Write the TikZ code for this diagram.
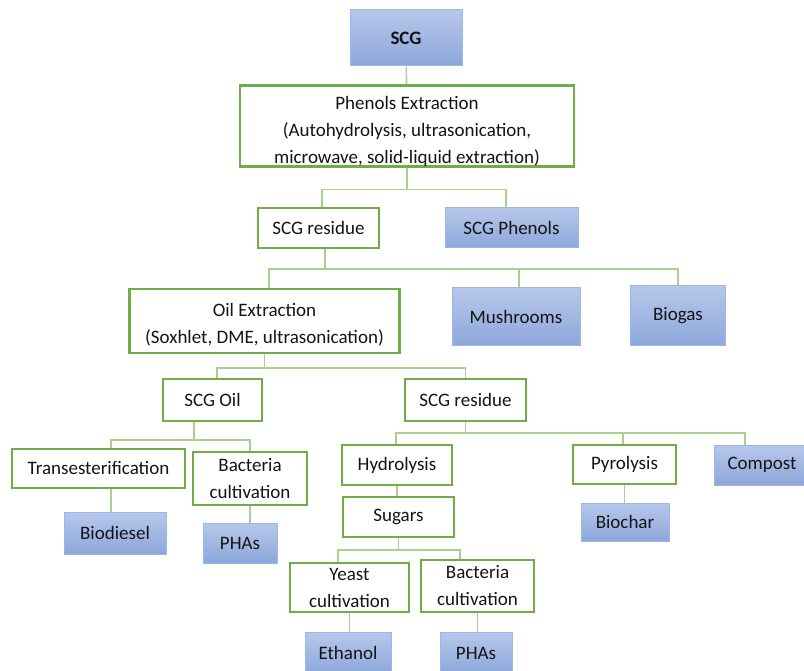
\documentclass[tikz,border=0pt]{standalone}
\usepackage{fontspec}
\setmainfont{Carlito}
\usepackage{tikz}
\definecolor{boxgreen}{RGB}{112,173,71}
\definecolor{linkgreen}{RGB}{169,209,142}
\definecolor{bluetop}{RGB}{182,199,234}
\definecolor{bluebot}{RGB}{141,167,219}
\definecolor{blueedge}{RGB}{158,182,228}
\definecolor{txt}{RGB}{20,20,20}

\begin{document}
\begin{tikzpicture}[x=1pt,y=-1pt,
	box/.style={rectangle,inner sep=0pt,align=center,text=txt,font=\fontsize{19}{27}\selectfont},
	greenbox/.style={box,draw=boxgreen,line width=2.3pt,fill=white},
	bluebox/.style={box,draw=blueedge,line width=1pt,top color=bluetop,bottom color=bluebot},
	link/.style={draw=linkgreen,line width=1.6pt}]
	\useasboundingbox (0,0) rectangle (804,671);

	\node[bluebox,minimum width=112pt,minimum height=56pt] (scg) at (406,38) {\textbf{SCG}};
	\node[greenbox,minimum width=334pt,minimum height=80pt] (phenext) at (407,126) {\rule{0pt}{24pt}Phenols Extraction\\(Autohydrolysis, ultrasonication,\\microwave, solid-liquid extraction)};
	\node[greenbox,minimum width=121pt,minimum height=40pt] (resA) at (318.5,228) {SCG residue};
	\node[bluebox,minimum width=133pt,minimum height=40pt] (phenols) at (511.5,228) {SCG Phenols};
	\node[greenbox,minimum width=270pt,minimum height=64pt] (oilext) at (264.5,321) {\rule{0pt}{21pt}Oil Extraction\\(Soxhlet, DME, ultrasonication)};
	\node[bluebox,minimum width=128pt,minimum height=58pt] (mush) at (516,317) {Mushrooms};
	\node[bluebox,minimum width=95pt,minimum height=60pt] (biogas) at (678,316) {Biogas};
	\node[greenbox,minimum width=99pt,minimum height=42pt] (oil) at (212.5,400) {SCG Oil};
	\node[greenbox,minimum width=121pt,minimum height=42pt] (resB) at (465.5,400) {SCG residue};
	\node[greenbox,minimum width=173pt,minimum height=39pt] (trans) at (98.5,468.5) {Transesterification};
	\node[greenbox,minimum width=114pt,minimum height=53pt] (bactA) at (250,478.5) {Bacteria\\cultivation};
	\node[bluebox,minimum width=102pt,minimum height=42pt] (biodiesel) at (115,533) {Biodiesel};
	\node[bluebox,minimum width=74pt,minimum height=40pt] (phaA) at (240,543) {PHAs};
	\node[greenbox,minimum width=110pt,minimum height=40pt] (hydro) at (397,465) {Hydrolysis};
	\node[greenbox,minimum width=111pt,minimum height=40pt] (sugars) at (398.5,517) {Sugars};
	\node[greenbox,minimum width=103pt,minimum height=39pt] (pyro) at (624.5,464.5) {Pyrolysis};
	\node[bluebox,minimum width=96pt,minimum height=40pt] (compost) at (762,465) {Compost};
	\node[bluebox,minimum width=88pt,minimum height=38pt] (biochar) at (625,522) {Biochar};
	\node[greenbox,minimum width=119pt,minimum height=49pt] (yeast) at (349.5,587.5) {Yeast\\cultivation};
	\node[greenbox,minimum width=113pt,minimum height=52pt] (bactB) at (477.5,586) {Bacteria\\cultivation};
	\node[bluebox,minimum width=86pt,minimum height=42pt] (ethanol) at (348,653) {Ethanol};
	\node[bluebox,minimum width=72pt,minimum height=42pt] (phaB) at (476,653) {PHAs};

	\draw[link] (scg) -- (phenext);
	\foreach \c/\dx in {resA/3.5,phenols/-5.5}
		\draw[link] (phenext.south) -- ++(0,22) -| ([xshift=\dx pt]\c.north);
	\foreach \c/\dx in {oilext/4.5,mush/3,biogas/0}
		\draw[link] ([xshift=6.5pt]resA.south) -- ++(0,20) -| ([xshift=\dx pt]\c.north);
	\foreach \c/\dx in {oil/4.5,resB/0}
		\draw[link] (oilext.south) -- ++(0,14) -| ([xshift=\dx pt]\c.north);
	\foreach \c/\dx in {trans/12.5,bactA/0}
		\draw[link] ([xshift=-18.5pt]oil.south) -- ++(0,18) -| ([xshift=\dx pt]\c.north);
	\foreach \c/\dx in {hydro/-1,pyro/-1.5,compost/-17}
		\draw[link] (resB.south) -- ++(0,11) -| ([xshift=\dx pt]\c.north);
	\foreach \c/\dx in {yeast/-11.5,bactB/-17.5}
		\draw[link] (sugars.south) -- ++(0,12) -| ([xshift=\dx pt]\c.north);
	\draw[link] (hydro.south) -- (hydro.south |- sugars.north);
	\draw[link] ([xshift=12.5pt]trans.south) -- ([xshift=12.5pt]trans.south |- biodiesel.north);
	\draw[link] (bactA.south) -- (bactA.south |- phaA.north);
	\draw[link] (pyro.south) -- (pyro.south |- biochar.north);
	\draw[link] (yeast.south) -- (yeast.south |- ethanol.north);
	\draw[link] (bactB.south) -- (bactB.south |- phaB.north);
\end{tikzpicture}
\end{document}
